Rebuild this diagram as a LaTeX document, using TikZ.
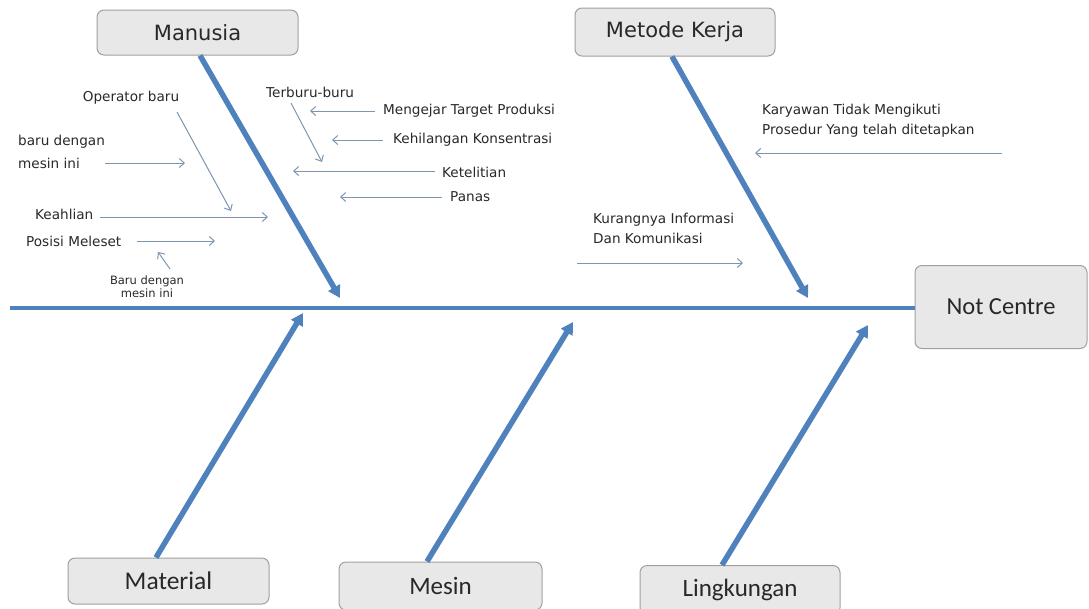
\documentclass[tikz,border=0pt]{standalone}
\usepackage{fontspec}
\setmainfont{DejaVu Sans}
\newfontfamily\carl{Carlito}
\usetikzlibrary{arrows.meta}
\definecolor{bonecol}{RGB}{79,129,189}
\definecolor{arrcol}{RGB}{125,150,175}
\definecolor{boxfill}{RGB}{232,232,232}
\definecolor{boxdraw}{RGB}{160,160,160}
\definecolor{txtcol}{RGB}{40,40,40}
\tikzset{
  catbox/.style={draw=boxdraw, fill=boxfill, rounded corners=7pt, line width=1pt, inner sep=0pt, text=txtcol},
  bone/.style={draw=bonecol, line width=5.5pt, -{Triangle[length=12pt,width=13pt]}},
  spineline/.style={draw=bonecol, line width=4pt},
  smallarr/.style={draw=arrcol, line width=1pt, -{Straight Barb[length=5pt,width=9pt]}},
  lbl/.style={inner sep=0pt, text=txtcol, align=left, font=\fontsize{13.6}{20}\selectfont},
}
\begin{document}
\begin{tikzpicture}[x=1pt,y=-1pt]
\useasboundingbox (0,0) rectangle (1089,608);
% category boxes
\node[catbox, minimum width=201pt, minimum height=45pt, font=\fontsize{21}{24}\selectfont] (manusia) at (197.5,32.5) {Manusia};
\node[catbox, minimum width=200pt, minimum height=48pt, font=\fontsize{21}{24}\selectfont] (metode) at (675,32) {Metode Kerja};
\node[catbox, minimum width=172pt, minimum height=83pt, font=\carl\fontsize{24.5}{28}\selectfont] (effect) at (1001,307) {Not Centre};
\node[catbox, minimum width=201pt, minimum height=46pt, font=\carl\fontsize{25.5}{28}\selectfont] (material) at (168.5,581) {Material};
\node[catbox, minimum width=203pt, minimum height=48pt, font=\carl\fontsize{25}{28}\selectfont] (mesin) at (440.5,586) {Mesin};
\node[catbox, minimum width=200pt, minimum height=49pt, font=\carl\fontsize{25}{28}\selectfont] (lingkungan) at (740,590) {Lingkungan};
% spine
\coordinate (spinestart) at (10,308);
\draw[spineline] (spinestart) -- (effect.west |- spinestart);
% bone tips
\coordinate (tipManusia) at (340,298);
\coordinate (tipMetode) at (808,298);
\coordinate (tipMaterial) at (303,313);
\coordinate (tipMesin) at (573,322);
\coordinate (tipLing) at (868,325);
\draw[bone] ([xshift=2.5pt]manusia.south) -- (tipManusia);
\draw[bone] ([xshift=-3pt]metode.south) -- (tipMetode);
\draw[bone] ([xshift=-12.5pt]material.north) -- (tipMaterial);
\draw[bone] ([xshift=-13.5pt]mesin.north) -- (tipMesin);
\draw[bone] ([xshift=-18pt]lingkungan.north) -- (tipLing);
% labels
\node[lbl, anchor=center] (opbaru) at (131,98) {Operator baru};
\node[lbl, anchor=west, font=\fontsize{13.6}{23}\selectfont] (barudengan) at (18,151.5) {baru dengan\\mesin ini};
\node[lbl, anchor=west] (keahlian) at (35,214) {Keahlian};
\node[lbl, anchor=west] (posisi) at (26,241) {Posisi Meleset};
\node[lbl, anchor=center, align=center, font=\fontsize{11.5}{13}\selectfont] (barusmall) at (147,286.5) {Baru dengan\\mesin ini};
\node[lbl, anchor=west] (terburu) at (266,92) {Terburu-buru};
\node[lbl, anchor=west] (mengejar) at (383,111) {Mengejar Target Produksi};
\node[lbl, anchor=west] (kehilangan) at (393,140) {Kehilangan Konsentrasi};
\node[lbl, anchor=west] (ketelitian) at (442,172) {Ketelitian};
\node[lbl, anchor=west] (panas) at (450,197) {Panas};
\node[lbl, anchor=west] (karyawan) at (762,121) {Karyawan Tidak Mengikuti\\Prosedur Yang telah ditetapkan};
\node[lbl, anchor=west] (kurang) at (593,228) {Kurangnya Informasi\\Dan Komunikasi};
% small arrow end points
\coordinate (a1s) at (177,112); \coordinate (a1e) at (231,211);
\coordinate (a2s) at (105,163); \coordinate (a2e) at (185,163);
\coordinate (a3s) at (100,217); \coordinate (a3e) at (268,217);
\coordinate (a4s) at (137,241); \coordinate (a4e) at (215,241);
\coordinate (a5s) at (170,269); \coordinate (a5e) at (158,252);
\coordinate (a6s) at (291,103); \coordinate (a6e) at (322,162);
\coordinate (a7s) at (375,111); \coordinate (a7e) at (310,111);
\coordinate (a8s) at (383,140); \coordinate (a8e) at (332,140);
\coordinate (a9s) at (435,171); \coordinate (a9e) at (293,171);
\coordinate (a10s) at (442,197); \coordinate (a10e) at (340,197);
\coordinate (a11s) at (1002,153); \coordinate (a11e) at (755,153);
\coordinate (a12s) at (577,263); \coordinate (a12e) at (743,263);
\foreach \i in {1,...,12} { \draw[smallarr] (a\i s) -- (a\i e); }
\end{tikzpicture}
\end{document}
